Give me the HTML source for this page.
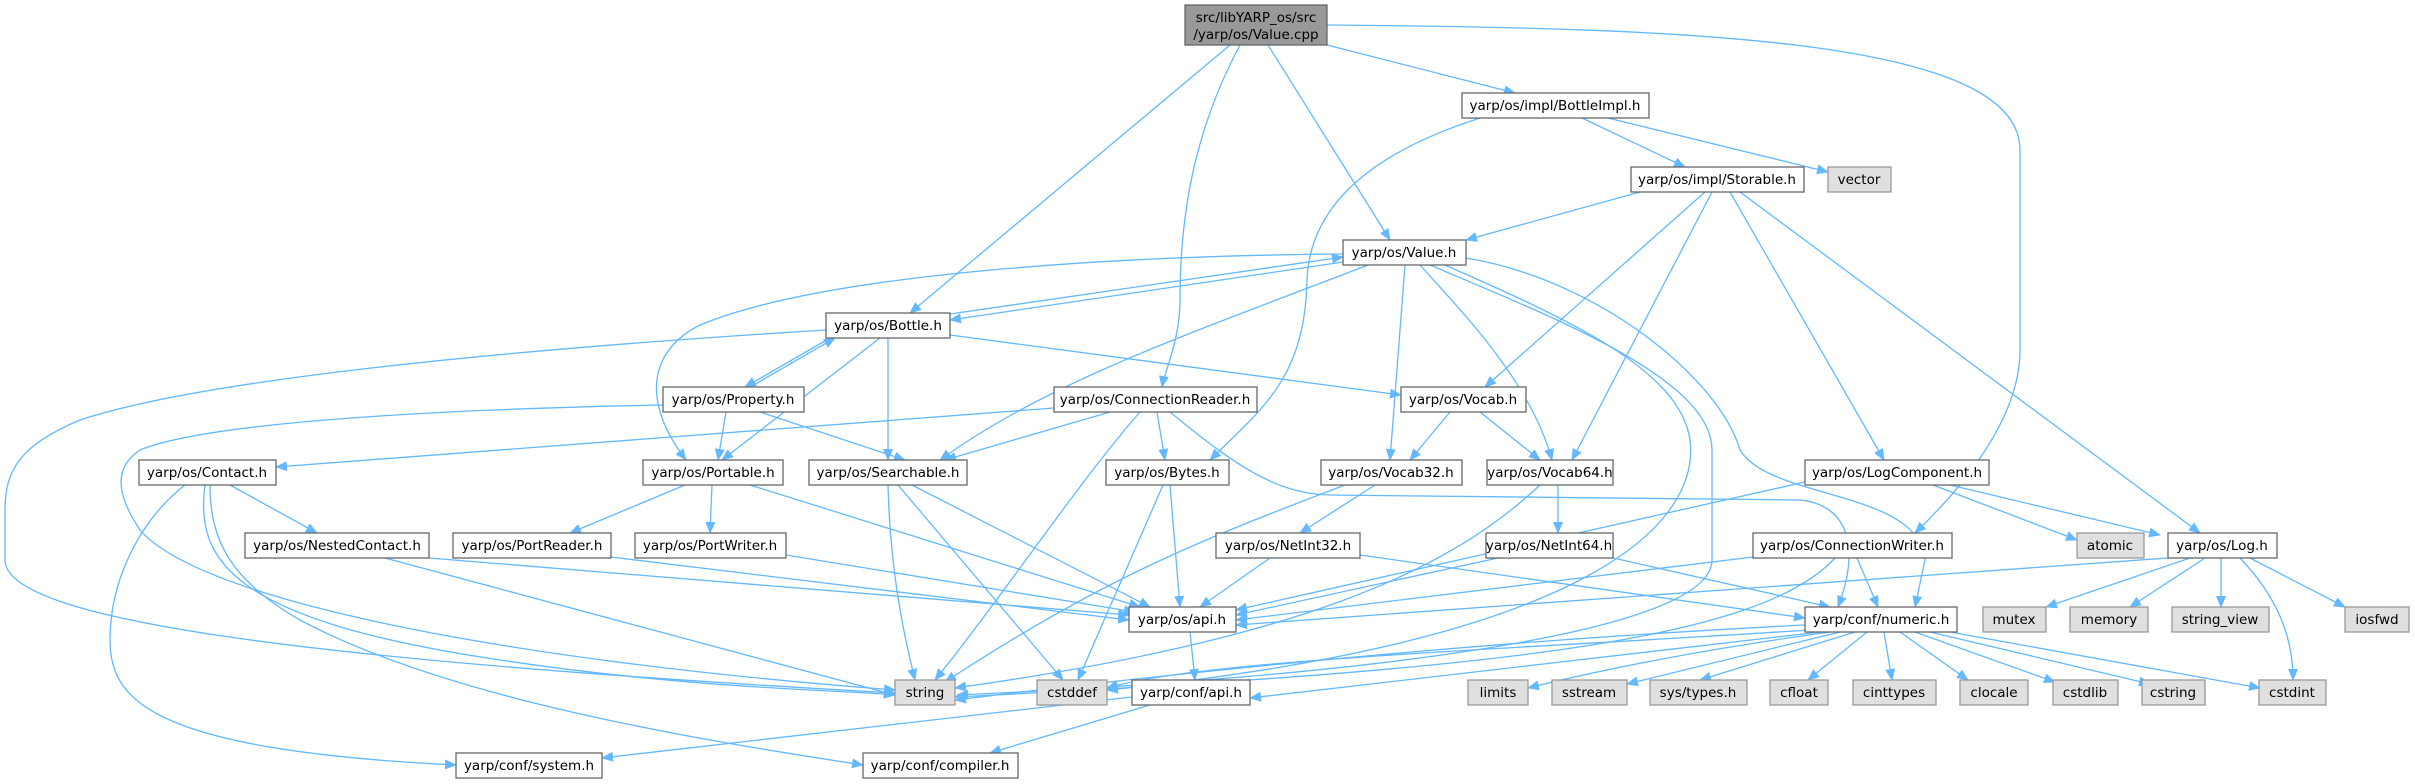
<!DOCTYPE html>
<html><head><meta charset="utf-8"><style>
html,body{margin:0;padding:0;background:#fff;}
svg{display:block;}
text{font-family:"DejaVu Sans","Liberation Sans",sans-serif;font-size:13.5px;fill:#000;}
.e{fill:none;stroke:#63b8ff;stroke-width:1.3;}
.n{fill:#fff;stroke:#666;stroke-width:1.3;}
.g{fill:#e0e0e0;stroke:#999;stroke-width:1.3;}
</style></head><body>
<svg width="2415" height="784" viewBox="0 0 2415 784" xmlns="http://www.w3.org/2000/svg">
<defs><marker id="a" markerWidth="12" markerHeight="10" refX="11" refY="5" orient="auto" markerUnits="userSpaceOnUse"><path d="M0,0 L12,5 L0,10 z" fill="#63b8ff"/></marker></defs>
<g marker-end="url(#a)">
<!-- Value.cpp -->
<path class="e" d="M1230,45 L910,313"/>
<path class="e" d="M1240,45 C1200,120 1180,200 1180,300 C1180,340 1165,370 1162,387"/>
<path class="e" d="M1268,45 L1390,240"/>
<path class="e" d="M1327,45 L1515,93"/>
<path class="e" d="M1327,25 C1700,28 2020,40 2020,150 L2020,350 C2020,420 1960,490 1915,533"/>
<!-- BottleImpl -->
<path class="e" d="M1582,118 L1685,167"/>
<path class="e" d="M1608,118 L1828,172"/>
<path class="e" d="M1480,118 C1380,150 1310,200 1307,280 C1305,380 1260,410 1210,460"/>
<!-- Storable -->
<path class="e" d="M1640,192 L1466,240"/>
<path class="e" d="M1705,192 L1485,387"/>
<path class="e" d="M1712,192 L1572,460"/>
<path class="e" d="M1730,192 L1884,460"/>
<path class="e" d="M1740,192 L2200,533"/>
<!-- Value.h -->
<path class="e" d="M1343,262 L950,320"/>
<path class="e" d="M950,314 L1343,257"/>
<path class="e" d="M1343,254 C1100,256 820,275 700,325 C650,350 640,400 686,460"/>
<path class="e" d="M1368,265 C1200,330 1050,380 940,460"/>
<path class="e" d="M1405,265 L1390,460"/>
<path class="e" d="M1420,265 C1460,310 1530,380 1552,460"/>
<path class="e" d="M1430,265 C1560,320 1712,380 1712,450 L1712,560 C1712,640 1300,680 957,695"/>
<path class="e" d="M1445,265 C1570,320 1680,370 1690,440 C1700,520 1600,640 1107,690"/>
<path class="e" d="M1466,258 C1600,280 1720,380 1740,450 C1770,500 1920,490 1925,560 L1915,607"/>
<!-- Bottle.h -->
<path class="e" d="M830,338 L745,387"/>
<path class="e" d="M750,387 L835,338"/>
<path class="e" d="M880,338 L722,460"/>
<path class="e" d="M888,338 L888,460"/>
<path class="e" d="M950,335 L1401,395"/>
<path class="e" d="M826,330 C500,350 200,380 80,420 C20,445 5,470 5,510 L5,560 C5,620 300,660 895,693"/>
<!-- Property.h -->
<path class="e" d="M726,412 L718,460"/>
<path class="e" d="M760,412 L905,460"/>
<path class="e" d="M664,405 C400,410 200,425 140,450 C110,470 120,500 140,530 C200,600 500,660 895,690"/>
<!-- ConnectionReader -->
<path class="e" d="M1054,408 L276,467"/>
<path class="e" d="M1110,412 L945,460"/>
<path class="e" d="M1157,412 L1165,460"/>
<path class="e" d="M1140,412 C1080,480 1000,600 935,680"/>
<path class="e" d="M1170,412 C1240,470 1280,494 1330,495 L1800,500 C1850,505 1860,550 1838,607"/>
<!-- Vocab.h -->
<path class="e" d="M1450,412 L1410,460"/>
<path class="e" d="M1480,412 L1540,460"/>
<!-- Contact.h -->
<path class="e" d="M230,485 L317,533"/>
<path class="e" d="M185,485 C140,520 110,580 110,640 C110,700 150,750 456,765"/>
<path class="e" d="M205,485 C195,560 230,620 500,660 C700,690 850,690 895,695"/>
<path class="e" d="M210,485 C210,540 230,580 300,620 C450,700 700,740 863,765"/>
<!-- Portable -->
<path class="e" d="M685,485 L570,533"/>
<path class="e" d="M712,485 L710,533"/>
<path class="e" d="M750,485 L1140,607"/>
<path class="e" d="M429,558 L1129,615"/>
<path class="e" d="M385,558 L895,695"/>
<path class="e" d="M611,557 L1129,620"/>
<path class="e" d="M786,555 L1135,612"/>
<!-- Searchable -->
<path class="e" d="M888,485 C890,560 900,620 915,680"/>
<path class="e" d="M898,485 L1063,680"/>
<path class="e" d="M912,485 L1150,607"/>
<!-- Bytes -->
<path class="e" d="M1163,485 L1078,680"/>
<path class="e" d="M1170,485 L1180,607"/>
<!-- Vocab32/64 -->
<path class="e" d="M1375,485 L1300,533"/>
<path class="e" d="M1345,485 C1200,540 1100,580 945,682"/>
<path class="e" d="M1558,485 L1558,533"/>
<path class="e" d="M1540,485 C1450,570 1300,640 955,688"/>
<path class="e" d="M1270,558 L1200,607"/>
<path class="e" d="M1360,555 L1805,618"/>
<path class="e" d="M1498,558 L1236,615"/>
<path class="e" d="M1600,555 L1830,607"/>
<!-- LogComponent -->
<path class="e" d="M1805,482 L1236,610"/>
<path class="e" d="M1933,485 L2077,540"/>
<path class="e" d="M1950,485 L2160,535"/>
<!-- ConnectionWriter -->
<path class="e" d="M1753,557 L1236,620"/>
<path class="e" d="M1857,558 L1878,607"/>
<path class="e" d="M1835,558 C1760,640 1500,670 955,697"/>
<!-- Log.h -->
<path class="e" d="M2168,558 L1236,625"/>
<path class="e" d="M2190,558 L2046,607"/>
<path class="e" d="M2205,558 L2130,607"/>
<path class="e" d="M2221,558 L2221,607"/>
<path class="e" d="M2250,558 L2345,607"/>
<path class="e" d="M2240,558 C2280,600 2293,640 2293,680"/>
<!-- api.h -->
<path class="e" d="M1190,632 L1195,680"/>
<path class="e" d="M1132,697 L602,758"/>
<path class="e" d="M1150,705 L990,753"/>
<!-- numeric.h -->
<path class="e" d="M1805,625 C1500,640 1200,670 955,700"/>
<path class="e" d="M1810,630 C1500,650 1200,660 1107,688"/>
<path class="e" d="M1820,632 L1250,698"/>
<path class="e" d="M1830,632 C1700,650 1600,670 1528,688"/>
<path class="e" d="M1840,632 L1627,684"/>
<path class="e" d="M1855,632 L1700,680"/>
<path class="e" d="M1867,632 L1808,680"/>
<path class="e" d="M1884,632 L1892,680"/>
<path class="e" d="M1900,632 L1968,680"/>
<path class="e" d="M1915,632 L2055,682"/>
<path class="e" d="M1930,632 L2150,684"/>
<path class="e" d="M1950,632 L2260,688"/>
</g>
<!-- nodes -->
<rect x="1185" y="5" width="142" height="40" fill="#999" stroke="#666" stroke-width="1.3"/>
<text x="1256" y="22" text-anchor="middle">src/libYARP_os/src</text>
<text x="1256" y="39" text-anchor="middle">/yarp/os/Value.cpp</text>
<g text-anchor="middle">
<rect class="n" x="1462" y="93" width="187" height="25"/><text x="1555" y="110">yarp/os/impl/BottleImpl.h</text>
<rect class="n" x="1631" y="167" width="173" height="25"/><text x="1717" y="184">yarp/os/impl/Storable.h</text>
<rect class="g" x="1828" y="167" width="63" height="25"/><text x="1859" y="184">vector</text>
<rect class="n" x="1343" y="240" width="123" height="25"/><text x="1404" y="257">yarp/os/Value.h</text>
<rect class="n" x="826" y="313" width="124" height="25"/><text x="888" y="330">yarp/os/Bottle.h</text>
<rect class="n" x="663" y="387" width="141" height="25"/><text x="733" y="404">yarp/os/Property.h</text>
<rect class="n" x="1054" y="387" width="203" height="25"/><text x="1155" y="404">yarp/os/ConnectionReader.h</text>
<rect class="n" x="1401" y="387" width="125" height="25"/><text x="1463" y="404">yarp/os/Vocab.h</text>
<rect class="n" x="139" y="460" width="137" height="25"/><text x="207" y="477">yarp/os/Contact.h</text>
<rect class="n" x="643" y="460" width="140" height="25"/><text x="713" y="477">yarp/os/Portable.h</text>
<rect class="n" x="809" y="460" width="158" height="25"/><text x="888" y="477">yarp/os/Searchable.h</text>
<rect class="n" x="1106" y="460" width="123" height="25"/><text x="1167" y="477">yarp/os/Bytes.h</text>
<rect class="n" x="1321" y="460" width="141" height="25"/><text x="1391" y="477">yarp/os/Vocab32.h</text>
<rect class="n" x="1487" y="460" width="126" height="25"/><text x="1550" y="477">yarp/os/Vocab64.h</text>
<rect class="n" x="1805" y="460" width="184" height="25"/><text x="1897" y="477">yarp/os/LogComponent.h</text>
<rect class="n" x="245" y="533" width="184" height="25"/><text x="337" y="550">yarp/os/NestedContact.h</text>
<rect class="n" x="453" y="533" width="158" height="25"/><text x="532" y="550">yarp/os/PortReader.h</text>
<rect class="n" x="635" y="533" width="151" height="25"/><text x="710" y="550">yarp/os/PortWriter.h</text>
<rect class="n" x="1216" y="533" width="144" height="25"/><text x="1288" y="550">yarp/os/NetInt32.h</text>
<rect class="n" x="1486" y="533" width="127" height="25"/><text x="1549" y="550">yarp/os/NetInt64.h</text>
<rect class="n" x="1753" y="533" width="199" height="25"/><text x="1852" y="550">yarp/os/ConnectionWriter.h</text>
<rect class="g" x="2077" y="533" width="67" height="25"/><text x="2110" y="550">atomic</text>
<rect class="n" x="2168" y="533" width="109" height="25"/><text x="2222" y="550">yarp/os/Log.h</text>
<rect class="n" x="1129" y="607" width="107" height="25"/><text x="1182" y="624">yarp/os/api.h</text>
<rect class="n" x="1805" y="607" width="152" height="25"/><text x="1881" y="624">yarp/conf/numeric.h</text>
<rect class="g" x="1983" y="607" width="63" height="25"/><text x="2014" y="624">mutex</text>
<rect class="g" x="2070" y="607" width="78" height="25"/><text x="2109" y="624">memory</text>
<rect class="g" x="2172" y="607" width="97" height="25"/><text x="2220" y="624">string_view</text>
<rect class="g" x="2345" y="607" width="64" height="25"/><text x="2377" y="624">iosfwd</text>
<rect class="g" x="895" y="680" width="60" height="25"/><text x="925" y="697">string</text>
<rect class="g" x="1037" y="680" width="70" height="25"/><text x="1072" y="697">cstddef</text>
<rect class="n" x="1132" y="680" width="118" height="25"/><text x="1191" y="697">yarp/conf/api.h</text>
<rect class="g" x="1468" y="680" width="60" height="25"/><text x="1498" y="697">limits</text>
<rect class="g" x="1552" y="680" width="75" height="25"/><text x="1589" y="697">sstream</text>
<rect class="g" x="1650" y="680" width="97" height="25"/><text x="1698" y="697">sys/types.h</text>
<rect class="g" x="1770" y="680" width="58" height="25"/><text x="1799" y="697">cfloat</text>
<rect class="g" x="1853" y="680" width="83" height="25"/><text x="1894" y="697">cinttypes</text>
<rect class="g" x="1960" y="680" width="68" height="25"/><text x="1994" y="697">clocale</text>
<rect class="g" x="2053" y="680" width="65" height="25"/><text x="2085" y="697">cstdlib</text>
<rect class="g" x="2142" y="680" width="63" height="25"/><text x="2173" y="697">cstring</text>
<rect class="g" x="2259" y="680" width="67" height="25"/><text x="2292" y="697">cstdint</text>
<rect class="n" x="456" y="753" width="146" height="25"/><text x="529" y="770">yarp/conf/system.h</text>
<rect class="n" x="863" y="753" width="155" height="25"/><text x="940" y="770">yarp/conf/compiler.h</text>
</g>
</svg>
</body></html>
